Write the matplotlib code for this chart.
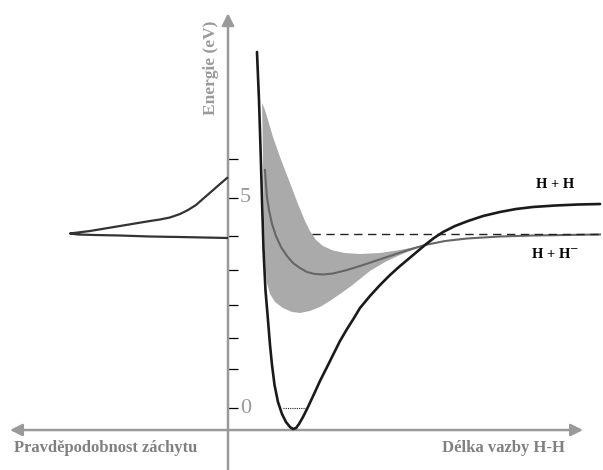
import matplotlib
matplotlib.use('Agg')
import matplotlib.pyplot as plt

# H2 potential curve (bond length in A, energy in eV)
h2_r = [0.345, 0.369, 0.387, 0.405, 0.423, 0.446, 0.476, 0.500, 0.524, 0.554, 0.595,
        0.643, 0.690, 0.738, 0.774, 0.810, 0.845, 0.893, 0.952, 1.024, 1.095, 1.179,
        1.250, 1.333, 1.417, 1.500, 1.571, 1.690, 1.810, 1.929, 2.048, 2.190, 2.345,
        2.452, 2.560, 2.702, 2.857, 3.036, 3.238, 3.429, 3.631, 3.893, 4.167, 4.429]
h2_e = [8.476, 7.333, 6.190, 4.952, 3.762, 2.810, 2.095, 1.500, 1.024, 0.548, 0.143,
        -0.143, -0.333, -0.452, -0.500, -0.476, -0.381, -0.214, 0.024, 0.333, 0.643, 0.976,
        1.262, 1.595, 1.881, 2.143, 2.381, 2.667, 2.929, 3.167, 3.381, 3.619, 3.881,
        4.048, 4.190, 4.333, 4.452, 4.571, 4.667, 4.738, 4.786, 4.821, 4.845, 4.857]

# H + H- curve
hm_r = [0.440, 0.452, 0.464, 0.488, 0.524, 0.571, 0.631, 0.702, 0.774, 0.857, 0.940,
        1.036, 1.131, 1.250, 1.417, 1.571, 1.750, 1.929, 2.107, 2.345, 2.583, 2.845,
        3.238, 3.631, 4.024, 4.429]
hm_e = [5.667, 5.310, 5.024, 4.714, 4.381, 4.095, 3.833, 3.619, 3.452, 3.333, 3.238,
        3.190, 3.179, 3.202, 3.286, 3.381, 3.500, 3.619, 3.738, 3.881, 3.976, 4.036,
        4.083, 4.107, 4.119, 4.131]

# shaded band around the H + H- curve
band_up_r = [0.405, 0.440, 0.476, 0.536, 0.619, 0.738, 0.833, 0.917, 0.976, 1.048,
             1.131, 1.250, 1.393, 1.571, 1.810, 2.048, 2.345]
band_up_e = [7.262, 7.095, 6.857, 6.452, 5.976, 5.357, 4.857, 4.452, 4.214, 4.000,
             3.857, 3.750, 3.690, 3.667, 3.690, 3.762, 3.881]
band_lo_r = [0.405, 0.411, 0.417, 0.423, 0.435, 0.446, 0.464, 0.500, 0.560, 0.655, 0.762,
             0.857, 0.976, 1.095, 1.214, 1.333, 1.452, 1.571, 1.690, 1.869, 2.048, 2.345]
band_lo_e = [7.262, 6.619, 5.905, 4.952, 4.000, 3.405, 2.976, 2.714, 2.524, 2.381, 2.286,
             2.262, 2.310, 2.405, 2.548, 2.714, 2.881, 3.071, 3.262, 3.476, 3.643, 3.881]

# capture probability (drawn to the left of the energy axis)
cap_p = [0.012, 0.095, 0.190, 0.286, 0.381, 0.476, 0.571, 0.690, 0.810, 0.929, 1.107,
         1.286, 1.464, 1.643, 1.786, 1.881, 1.786, 1.583, 1.286, 0.929, 0.571, 0.298, 0.012]
cap_e = [5.476, 5.333, 5.167, 5.000, 4.833, 4.714, 4.619, 4.536, 4.488, 4.452, 4.393,
         4.333, 4.274, 4.214, 4.179, 4.155, 4.131, 4.119, 4.107, 4.083, 4.071, 4.060, 4.048]

asym_hm = 4.14
zero_r = [0.655, 0.940]
yticks = [0, 0.93, 1.67, 2.45, 3.29, 4.10, 5.0, 5.93]

fig = plt.figure(figsize=(6.03, 4.70), dpi=100)
ax = fig.add_axes([0, 0, 1, 1])
ax.set_xlim(-2.714, 4.464)
ax.set_ylim(-1.476, 9.714)
for s in ax.spines.values():
    s.set_visible(False)
ax.spines['left'].set_position(('data', 0))
ax.set_xticks([])
ax.set_yticks(yticks)
ax.tick_params(axis='y', direction='in', length=7.2, width=0.9, color='black', labelleft=False)

gray_ax = '#9a9a9a'
ax.annotate('', xy=(0, 9.40), xytext=(0, -1.48),
            arrowprops=dict(arrowstyle='-|>,head_length=0.6,head_width=0.3', mutation_scale=12,
                            color=gray_ax, lw=1.8, shrinkA=0, shrinkB=0))
ax.annotate('', xy=(4.226, -0.524), xytext=(-2.595, -0.524),
            arrowprops=dict(arrowstyle='<|-|>,head_length=0.6,head_width=0.3', mutation_scale=12,
                            color=gray_ax, lw=1.8, shrinkA=0, shrinkB=0))

band_r = band_up_r + band_lo_r[::-1]
band_e = band_up_e + band_lo_e[::-1]
ax.fill(band_r, band_e, color='#aaaaaa', lw=0, zorder=2)

ax.plot(hm_r, hm_e, color='#666666', lw=1.5, zorder=3, solid_joinstyle='round')
ax.plot([1.0, 4.43], [asym_hm, asym_hm], color='#222222', lw=1.0, dashes=(6, 4), zorder=3)
ax.plot(h2_r, h2_e, color='#1a1a1a', lw=1.9, zorder=4, solid_capstyle='round',
        solid_joinstyle='round')
ax.plot(zero_r, [0, 0], color='#222222', lw=0.8, ls=(0, (1, 1)), zorder=3)
ax.plot([-p for p in cap_p], cap_e, color='#333333', lw=1.6, zorder=3, solid_joinstyle='round')

serif = ['Liberation Serif', 'DejaVu Serif']
ax.text(-0.202, 8.10, 'Energie (eV)', rotation=90, ha='center', va='center',
        color='#999999', fontsize=12.5, family=serif, fontweight='bold')
ax.text(0.205, 5.0, '5', ha='center', va='center', color='#999999', fontsize=16, family=serif)
ax.text(0.215, -0.02, '0', ha='center', va='center', color='#999999', fontsize=16, family=serif)
ax.text(3.893, 5.31, 'H + H', ha='center', va='center', color='black', fontsize=10.5,
        family=serif, fontweight='bold')
ax.text(3.893, 3.64, 'H + H$^{-}$', ha='center', va='center', color='black', fontsize=10.5,
        family=serif, fontweight='bold')
ax.text(-1.452, -0.952, 'Pravděpodobnost záchytu', ha='center', va='center', color='#808080',
        fontsize=12, family=serif, fontweight='bold')
ax.text(3.274, -0.952, 'Délka vazby H-H', ha='center', va='center', color='#808080',
        fontsize=12, family=serif, fontweight='bold')

fig.savefig('out.png', dpi=100)
